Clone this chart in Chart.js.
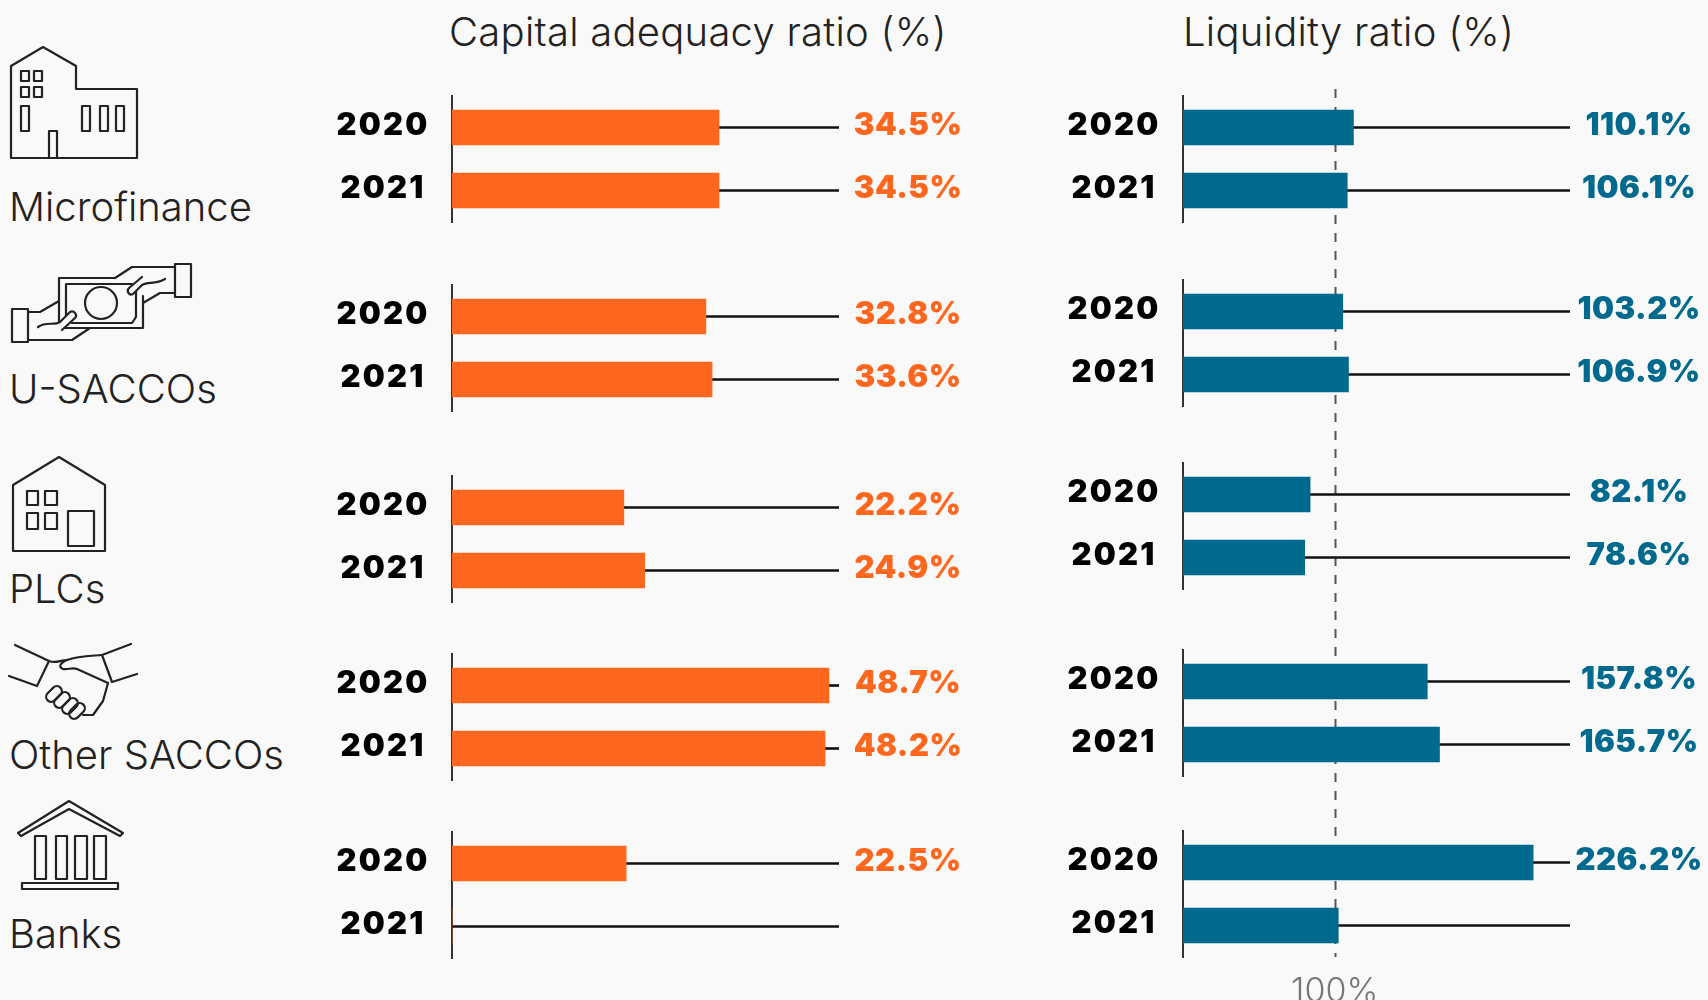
<!DOCTYPE html>
<html>
<head>
<meta charset="utf-8">
<title>Capital adequacy and liquidity ratios</title>
<script src="https://cdn.jsdelivr.net/npm/chart.js@4"></script>
<style>
  html, body { margin: 0; padding: 0; background: #f9f9f9; }
  body { position: relative; width: 1708px; height: 1000px; overflow: hidden; font-family: Inter, sans-serif; font-weight: 300; color: #222; }
  canvas { position: absolute; }
  .title, .sector { position: absolute; white-space: nowrap; line-height: 1; font-size: 40px; }
  .title { letter-spacing: 0.25px; }
  .icons { position: absolute; left: 0; top: 0; }
  .icons * { fill: none; stroke: #222; stroke-width: 2.2; stroke-linejoin: round; stroke-linecap: round; }
  .icons .over { fill: #f9f9f9; }
</style>
</head>
<body>
<div class="title" style="left:449px;top:12px">Capital adequacy ratio (%)</div>
<div class="title" style="left:1183px;top:12px">Liquidity ratio (%)</div>
<div class="sector" style="left:9px;top:187px">Microfinance</div>
<div class="sector" style="left:9px;top:369px">U-SACCOs</div>
<div class="sector" style="left:9px;top:569px">PLCs</div>
<div class="sector" style="left:9px;top:735px">Other SACCOs</div>
<div class="sector" style="left:9px;top:914px">Banks</div>

<svg class="icons" width="300" height="1000">
  <!-- microfinance -->
  <path d="M11 158V66L43 47L76 66V89H137V158Z"/>
  <rect x="21" y="71" width="8" height="10"/><rect x="34" y="71" width="8" height="10"/>
  <rect x="21" y="87" width="8" height="10"/><rect x="34" y="87" width="8" height="10"/>
  <rect x="21" y="106" width="8" height="25"/><rect x="82" y="106" width="8" height="25"/>
  <rect x="100" y="106" width="8" height="25"/><rect x="116" y="106" width="8" height="25"/>
  <rect x="49" y="131" width="8" height="27"/>
  <!-- u-saccos -->
  <rect x="12" y="309" width="16" height="33"/><rect x="175" y="264" width="16" height="33"/>
  <path d="M115 278L132 267H175M175 293H160L143 303M59 328V278H115M143 296V328H90"/>
  <path d="M28 312H40L59 301M28 340H72L90 328H62"/>
  <path d="M66 284H132L136 290V317L132 323H72L66 317V290Z"/>
  <circle cx="101" cy="303" r="16"/>
  <path class="over" d="M38 327C46 321 54 326 60 322L70 312C74 310 78 315 75 318L62 330"/>
  <path class="over" d="M165 279C155 285 148 281 142 285L133 294C129 296 126 291 129 288L142 277"/>
  <!-- plcs -->
  <path d="M13 551V485L59 457L105 485V551Z"/>
  <rect x="27" y="491" width="11" height="14"/><rect x="45" y="491" width="12" height="14"/>
  <rect x="27" y="513" width="11" height="16"/><rect x="45" y="513" width="12" height="16"/>
  <rect x="68" y="511" width="26" height="35"/>
  <!-- other saccos -->
  <path d="M15 645L49 661L37 686M9 676L37 686M131 644L102 655L112 682L137 674"/>
  <path d="M49 661C56 664 60 660 67 660C78 656 90 656 102 655"/>
  <path d="M67 660C60 663 58 667 63 669C68 670 72 667 77 669L108 683L103 701L93 715H83"/>
  <rect x="49" y="685" width="10" height="18" rx="5" transform="rotate(45 54 694)"/>
  <rect x="57" y="691" width="10" height="18" rx="5" transform="rotate(45 62 700)"/>
  <rect x="65" y="697" width="10" height="18" rx="5" transform="rotate(45 70 706)"/>
  <rect x="72" y="702" width="10" height="18" rx="5" transform="rotate(45 77 711)"/>
  <!-- banks -->
  <path d="M69 801L123 833L120 836L69 809L21 836L18 833Z"/>
  <rect x="35" y="836" width="11" height="43"/><rect x="56" y="836" width="11" height="43"/>
  <rect x="75" y="836" width="12" height="43"/><rect x="94" y="836" width="12" height="43"/>
  <rect x="22" y="883" width="96" height="6"/>
</svg>

<script>
const years = ["2020", "2021"];
const sectors = ["Microfinance", "U-SACCOs", "PLCs", "Other SACCOs", "Banks"];

const capital2020 = [34.5, 32.8, 22.2, 48.7, 22.5];
const capital2021 = [34.5, 33.6, 24.9, 48.2, 0];
const liquidity2020 = [110.1, 103.2, 82.1, 157.8, 226.2];
const liquidity2021 = [106.1, 106.9, 78.6, 165.7, 100.3];

// printed without a value in the original
const noLabelSector = "Banks";
const noLabelYear = "2021";

// the 100% line sits at 98 on the scale the bars are drawn to
const liquidityLinePos = 98;
const liquidityLineLabel = "100%";

const capitalMax = 50;
const liquidityMax = 250;

// axis tops in page pixels
const capitalTops = [96, 285, 476, 654, 832];
const liquidityTops = [96, 280, 463, 650, 831];

const ORANGE = "#ff671f";
const BLUE = "#006a8e";
const PLOT_H = 126;
const MARGIN = 10;

const valueLabels = {
  id: "valueLabels",
  beforeDraw(chart) {
    // year ticks are set wider than Inter's default
    chart.ctx.letterSpacing = "2.2px";
  },
  afterDatasetsDraw(chart, args, opts) {
    const { ctx, scales } = chart;
    ctx.save();
    ctx.font = "900 31px Inter";
    ctx.letterSpacing = "0.5px";
    ctx.fillStyle = opts.color;
    ctx.textAlign = "center";
    ctx.textBaseline = "middle";
    chart.data.datasets[0].data.forEach((v, i) => {
      if (opts.sector === noLabelSector && years[i] === noLabelYear) return;
      ctx.fillText(v.toFixed(1) + "%", scales.x.right + 69, scales.y.getPixelForValue(i) - 2);
    });
    ctx.restore();
  },
};

const refLine = {
  id: "refLine",
  beforeDatasetsDraw(chart, args, opts) {
    const { ctx, scales } = chart;
    // the x tick has z 1, so it is drawn after this and stays unspaced
    ctx.letterSpacing = "0px";
    if (!opts.show) return;
    const x = Math.round(scales.x.getPixelForValue(liquidityLinePos)) + 0.5;
    ctx.save();
    ctx.strokeStyle = "#555";
    ctx.lineWidth = 2;
    ctx.setLineDash([9, 9]);
    ctx.beginPath();
    ctx.moveTo(x, 89);
    ctx.lineTo(x, scales.y.bottom);
    ctx.stroke();
    ctx.restore();
  },
};

const smallChart = function (cfg) {
  const canvas = document.createElement("canvas");
  canvas.width = cfg.width;
  canvas.height = cfg.height;
  canvas.style.left = cfg.left + "px";
  canvas.style.top = cfg.top + "px";
  document.body.appendChild(canvas);

  new Chart(canvas, {
    type: "bar",
    data: {
      labels: years,
      datasets: [
        { label: cfg.sector, data: cfg.values, backgroundColor: cfg.color, barThickness: 35, grouped: false, order: 1 },
        { label: "leader", data: cfg.values.map((v) => [v, cfg.max]), backgroundColor: "#111", barThickness: 2, grouped: false, order: 2 },
      ],
    },
    options: {
      indexAxis: "y",
      responsive: false,
      animation: false,
      devicePixelRatio: 1,
      layout: { padding: { top: cfg.padTop, bottom: cfg.padBottom, left: 0, right: cfg.padRight } },
      scales: {
        x: {
          display: cfg.showTick,
          min: 0,
          max: cfg.max,
          grid: { display: false },
          border: { display: false },
          afterBuildTicks: (scale) => {
            scale.ticks = [{ value: liquidityLinePos }];
          },
          afterFit: (scale) => {
            scale.height = cfg.showTick ? 43 : 0;
          },
          ticks: {
            autoSkip: false,
            maxRotation: 0,
            padding: 6,
            z: 1,
            color: "#777",
            font: { family: "Inter", size: 34, weight: "300" },
            callback: () => liquidityLineLabel,
          },
        },
        y: {
          grid: { display: false, drawTicks: false },
          border: { display: true, color: "#333", width: 2 },
          afterFit: (scale) => {
            scale.width = cfg.axisWidth;
            // tick padding must not eat into the plot height
            scale.paddingTop = 0;
            scale.paddingBottom = 0;
          },
          ticks: {
            crossAlign: "center",
            padding: 27,
            color: "#000",
            // the empty second line lifts the year 2px above the bar centre
            font: { family: "Inter", size: 31, weight: "900", lineHeight: "4px" },
            callback: (value, index) => [years[index], ""],
          },
        },
      },
      plugins: {
        legend: { display: false },
        tooltip: { enabled: false },
        valueLabels: { color: cfg.color, sector: cfg.sector },
        refLine: { show: cfg.showTick },
      },
    },
    plugins: [valueLabels, refLine],
  });
};

const init = function () {
  // banks liquidity goes first: it carries the dashed line, which runs behind the other bars
  smallChart({
    sector: sectors[4], values: [liquidity2020[4], liquidity2021[4]], max: liquidityMax, color: BLUE,
    left: 1040, width: 668, top: 0, height: 1000, padTop: liquidityTops[4], padBottom: 0, padRight: 138, axisWidth: 143, showTick: true,
  });
  for (let i = 0; i < 4; i++) {
    smallChart({
      sector: sectors[i], values: [liquidity2020[i], liquidity2021[i]], max: liquidityMax, color: BLUE,
      left: 1040, width: 668, top: liquidityTops[i] - MARGIN, height: PLOT_H + 2 * MARGIN, padTop: MARGIN, padBottom: MARGIN, padRight: 138, axisWidth: 143, showTick: false,
    });
  }
  sectors.forEach((sector, i) => {
    smallChart({
      sector, values: [capital2020[i], capital2021[i]], max: capitalMax, color: ORANGE,
      left: 310, width: 700, top: capitalTops[i] - MARGIN, height: PLOT_H + 2 * MARGIN, padTop: MARGIN, padBottom: MARGIN, padRight: 171, axisWidth: 142, showTick: false,
    });
  });
};

document.addEventListener("DOMContentLoaded", init);
</script>
</body>
</html>
